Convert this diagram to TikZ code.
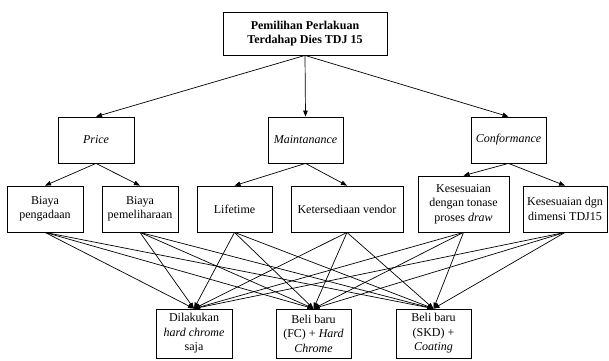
\documentclass[tikz,border=0pt]{standalone}
\usepackage{fontspec}
\setmainfont{Liberation Serif}
\usetikzlibrary{arrows.meta}
\tikzset{
  box/.style={draw, line width=0.8pt, inner sep=0pt, align=center,
    font=\fontsize{12}{14.5}\selectfont},
  link/.style={line width=0.7pt, -{Triangle[length=6pt,width=4.5pt]}},
}
\begin{document}
\begin{tikzpicture}[x=1pt,y=-1pt]
\useasboundingbox (0,0) rectangle (609,360);
% goal
\node[box, minimum width=164pt, minimum height=43pt, font=\fontsize{12}{14.5}\selectfont\bfseries]
  (goal) at (305,33.5) {Pemilihan Perlakuan\\Terdahap Dies TDJ 15};
% criteria
\node[box, minimum width=76pt, minimum height=46pt] (price) at (96,140) {\textit{Price}};
\node[box, minimum width=75pt, minimum height=46pt] (maint) at (305.5,140) {\textit{Maintanance}};
\node[box, minimum width=75pt, minimum height=46pt] (conf) at (508.5,140) {\textit{Conformance}};
% sub-criteria
\node[box, minimum width=76pt, minimum height=46pt] (s1) at (45,209) {Biaya\\pengadaan};
\node[box, minimum width=76pt, minimum height=46pt] (s2) at (140,209) {Biaya\\pemeliharaan};
\node[box, minimum width=75pt, minimum height=46pt] (s3) at (234.5,209) {Lifetime};
\node[box, minimum width=112pt, minimum height=46pt] (s4) at (347,209) {Ketersediaan vendor};
\node[box, minimum width=91pt, minimum height=56pt] (s5) at (463.5,204) {Kesesuaian\\dengan tonase\\proses \textit{draw}};
\node[box, minimum width=84pt, minimum height=46pt] (s6) at (565,209) {Kesesuaian dgn\\dimensi TDJ15};
% alternatives
\node[box, minimum width=76pt, minimum height=49pt] (a1) at (194,333.5) {Dilakukan\\\textit{hard chrome}\\saja};
\node[box, minimum width=75pt, minimum height=49pt] (a2) at (313.5,333.5) {Beli baru\\(FC) + \textit{Hard}\\\textit{Chrome}};
\node[box, minimum width=75pt, minimum height=49pt] (a3) at (433.5,333.5) {Beli baru\\(SKD) +\\\textit{Coating}};
% goal to criteria
\foreach \c in {price,maint,conf} \draw[link] (goal.south) -- (\c.north);
% criteria to sub-criteria
\draw[link] (price.south) -- (s1.north);
\draw[link] (price.south) -- (s2.north);
\draw[link] (maint.south) -- (s3.north);
\draw[link] (maint.south) -- (s4.north);
\draw[link] (conf.south) -- (s5.north);
\draw[link] (conf.south) -- (s6.north);
% sub-criteria to alternatives
\foreach \s in {s1,s2,s3,s4,s5,s6}
  \foreach \a in {a1,a2,a3}
    \draw[link] (\s.south) -- (\a.north);
\end{tikzpicture}
\end{document}
